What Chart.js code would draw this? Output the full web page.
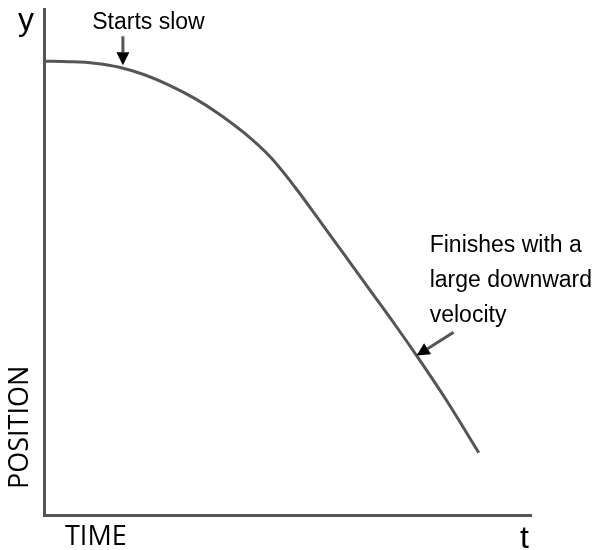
<!DOCTYPE html>
<html>
<head>
<meta charset="utf-8">
<script src="https://cdn.jsdelivr.net/npm/chart.js@4"></script>
<style>
  html, body { margin: 0; padding: 0; background: #fff; }
</style>
</head>
<body>
<canvas id="motion-chart" width="594" height="550"></canvas>
<script>
// time values (x axis, 0-100)
const time_values = [0, 5.15, 10.31, 15.46, 20.62, 25.77, 30.93, 36.08, 41.24, 46.39, 51.55, 56.70, 61.86, 67.01, 72.16, 77.32, 82.47, 89.28]
// position values (y axis, 0-100)
const position_values = [89.68, 89.58, 89.29, 88.49, 87.00, 84.92, 82.34, 79.17, 75.40, 70.83, 64.78, 58.04, 51.19, 44.35, 37.50, 30.36, 22.92, 12.30]

let curve_points = []
for (let i = 0; i < time_values.length; i++) {
  curve_points.push({ x: time_values[i], y: position_values[i] })
}

const ink = '#555555'

function arrow(ctx, x1, y1, x2, y2) {
  // shaft from (x1,y1) to tip (x2,y2) with filled head
  const ang = Math.atan2(y2 - y1, x2 - x1)
  const len = 13, half = 6.5
  const bx = x2 - len * Math.cos(ang), by = y2 - len * Math.sin(ang)
  ctx.strokeStyle = ink
  ctx.lineWidth = 3
  ctx.beginPath()
  ctx.moveTo(x1, y1)
  ctx.lineTo(bx, by)
  ctx.stroke()
  ctx.fillStyle = '#000'
  ctx.beginPath()
  ctx.moveTo(x2, y2)
  ctx.lineTo(bx + half * Math.sin(ang), by - half * Math.cos(ang))
  ctx.lineTo(bx - half * Math.sin(ang), by + half * Math.cos(ang))
  ctx.closePath()
  ctx.fill()
}

const notes = {
  id: 'notes',
  afterDraw(chart) {
    const ctx = chart.ctx
    const xs = chart.scales.x, ys = chart.scales.y
    const px = v => xs.getPixelForValue(v)
    const py = v => ys.getPixelForValue(v)
    ctx.save()

    // axis letters
    ctx.fillStyle = '#000'
    ctx.font = '32px "Liberation Sans", Arial, sans-serif'
    ctx.textAlign = 'left'
    ctx.textBaseline = 'alphabetic'
    ctx.fillText('y', 18, 30)
    ctx.fillText('t', 520, 548)

    // axis titles
    ctx.font = '27px "Open Sans", sans-serif'
    ctx.fillText('TIME', 65, 545)
    ctx.save()
    ctx.translate(28, 489)
    ctx.rotate(-Math.PI / 2)
    ctx.fillText('POSITION', 0, 0)
    ctx.restore()

    // annotations
    ctx.font = '23px "Liberation Sans", Arial, sans-serif'
    ctx.fillText('Starts slow', px(9.9), py(96.0))
    arrow(ctx, px(16.2), py(94.6), px(16.2), py(88.9))

    ctx.fillStyle = '#000'
    ctx.fillText('Finishes with a', px(79.2), py(52.0))
    ctx.fillText('large downward', px(79.2), py(45.0))
    ctx.fillText('velocity', px(79.2), py(38.1))
    arrow(ctx, px(84.1), py(36.1), px(76.5), py(31.5))

    ctx.restore()
  }
}

new Chart(document.getElementById('motion-chart'), {
  type: 'line',
  data: {
    datasets: [{
      data: curve_points,
      borderColor: ink,
      borderWidth: 3,
      pointRadius: 0,
      fill: false,
      cubicInterpolationMode: 'monotone'
    }]
  },
  options: {
    responsive: false,
    animation: false,
    layout: { padding: { left: 44, right: 63, top: 9, bottom: 35 } },
    plugins: { legend: { display: false }, tooltip: { enabled: false } },
    scales: {
      x: {
        type: 'linear', min: 0, max: 100,
        ticks: { display: false },
        grid: { display: false, drawTicks: false },
        border: { display: true, color: ink, width: 3 }
      },
      y: {
        type: 'linear', min: 0, max: 100,
        ticks: { display: false },
        grid: { display: false, drawTicks: false },
        border: { display: true, color: ink, width: 3 }
      }
    }
  },
  plugins: [notes]
});
</script>
</body>
</html>
